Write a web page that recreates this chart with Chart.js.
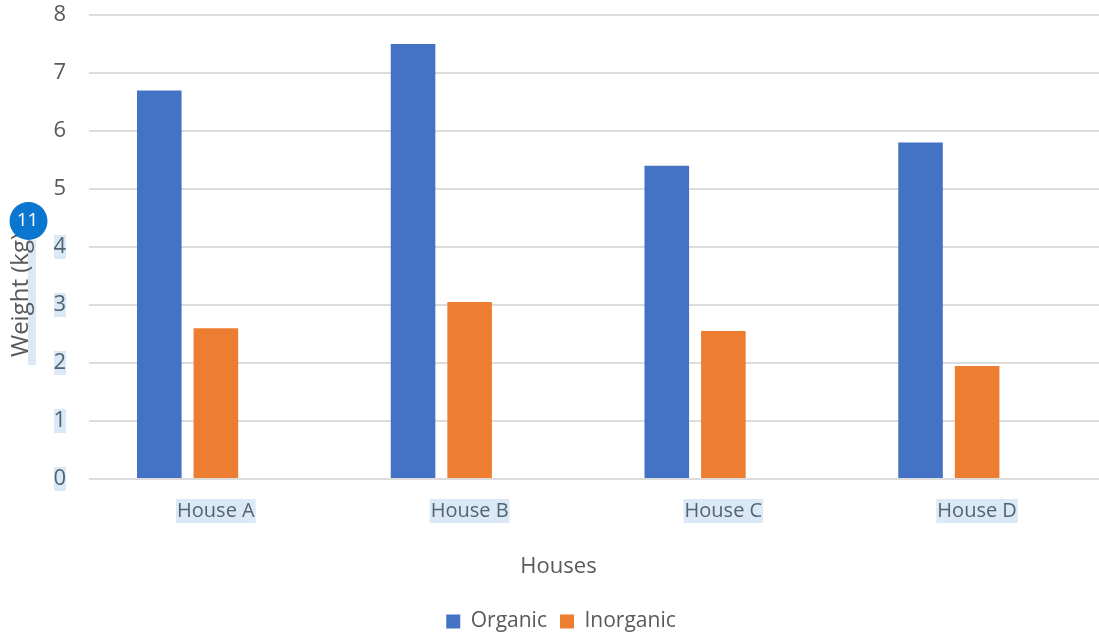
<!DOCTYPE html>
<html>
<head>
<meta charset="utf-8">
<title>Weight by house</title>
<script src="https://cdn.jsdelivr.net/npm/chart.js@4"></script>
<style>
  html, body { margin: 0; padding: 0; background: #fff; overflow: hidden; }
  /* the plot runs a little past the right edge of the page */
  #wrap { position: relative; width: 1104px; height: 642px; }
</style>
</head>
<body>
<div id="wrap"><canvas id="chart"></canvas></div>
<script>
const categories = ['House A', 'House B', 'House C', 'House D'];
const organic = [6.7, 7.5, 5.4, 5.8];
const inorganic = [2.6, 3.05, 2.55, 1.95];
// third column of the sheet has no values, it still takes up a slot in each group
const blank = [null, null, null, null];
const yTicks = [0, 1, 2, 3, 4, 5, 6, 7, 8];
const selectedTicks = [0, 1, 2, 3, 4];
const yTitle = 'Weight (kg)';
const xTitle = 'Houses';
const badgeText = '11';

const FONT = '"Open Sans", sans-serif';
const GREY = '#595959';
const SEL_TEXT = '#526473';
const SEL_BG = '#dbe9f6';
const X_TICK_SIZE = 20;

// selection highlight behind the tick labels and axis title
const highlights = {
  id: 'highlights',
  beforeDraw(chart) {
    const { ctx, scales } = chart;
    ctx.save();
    ctx.fillStyle = SEL_BG;
    ctx.font = X_TICK_SIZE + 'px ' + FONT;
    categories.forEach((c, i) => {
      const w = ctx.measureText(c).width + 2;
      ctx.fillRect(scales.x.getPixelForValue(i) - w / 2, 499, w, 24);
    });
    selectedTicks.forEach(v => {
      ctx.fillRect(54, scales.y.getPixelForValue(v) - 12, 12, 24);
    });
    ctx.fillRect(28, 240, 8, 125);
    ctx.restore();
  }
};

// axis titles sit off-centre from the plot, so they are placed here,
// then the round comment badge goes on top
const overlay = {
  id: 'overlay',
  afterDraw(chart) {
    const { ctx } = chart;
    ctx.save();
    ctx.fillStyle = GREY;
    ctx.textAlign = 'center';
    ctx.textBaseline = 'middle';
    ctx.font = '22px ' + FONT;
    ctx.fillText(xTitle, 558.5, 566.5);
    ctx.translate(21, 295);
    ctx.rotate(-Math.PI / 2);
    ctx.font = '24px ' + FONT;
    ctx.fillText(yTitle, 0, 0);
    ctx.restore();

    ctx.save();
    ctx.beginPath();
    ctx.arc(28.5, 221, 19, 0, Math.PI * 2);
    ctx.fillStyle = '#0b76cf';
    ctx.fill();
    ctx.fillStyle = '#fff';
    ctx.font = '19px ' + FONT;
    ctx.textAlign = 'center';
    ctx.textBaseline = 'middle';
    ctx.fillText(badgeText, 27.5, 221);
    ctx.restore();
  }
};

const barOpts = { barPercentage: 0.788, categoryPercentage: 0.669 };

new Chart(document.getElementById('chart'), {
  type: 'bar',
  data: {
    labels: categories,
    datasets: [
      { label: 'Organic', data: organic, backgroundColor: '#4472c4', ...barOpts },
      { label: 'Inorganic', data: inorganic, backgroundColor: '#ed7d31', ...barOpts },
      { label: '', data: blank, backgroundColor: '#a5a5a5', ...barOpts }
    ]
  },
  options: {
    responsive: true,
    maintainAspectRatio: false,
    animation: false,
    // left padding keeps the legend centred where it belongs, the y axis fills the rest
    layout: { padding: { top: 15, right: 0, bottom: 0, left: 18 } },
    plugins: {
      tooltip: { enabled: false },
      legend: {
        position: 'bottom',
        labels: {
          filter: item => item.text !== '',
          boxWidth: 14,
          boxHeight: 14,
          padding: 13,
          color: GREY,
          font: { family: FONT, size: 21 }
        }
      }
    },
    scales: {
      x: {
        afterFit(scale) { scale.height = 119; scale.paddingLeft = 0; scale.paddingRight = 0; },
        grid: { display: false, drawTicks: false },
        border: { display: false },
        ticks: {
          color: SEL_TEXT,
          font: { family: FONT, size: X_TICK_SIZE },
          padding: 20,
          maxRotation: 0
        }
      },
      y: {
        min: 0,
        max: 8,
        afterFit(scale) { scale.width = 71; scale.paddingTop = 0; scale.paddingBottom = 0; },
        afterBuildTicks(scale) { scale.ticks = yTicks.map(v => ({ value: v })); },
        grid: { color: '#dcdcdc', lineWidth: 2, drawTicks: false },
        border: { display: false },
        ticks: {
          color: ctx => selectedTicks.includes(ctx.tick.value) ? SEL_TEXT : GREY,
          font: { family: FONT, size: 22 },
          padding: 23
        }
      }
    }
  },
  plugins: [highlights, overlay]
});
</script>
</body>
</html>
